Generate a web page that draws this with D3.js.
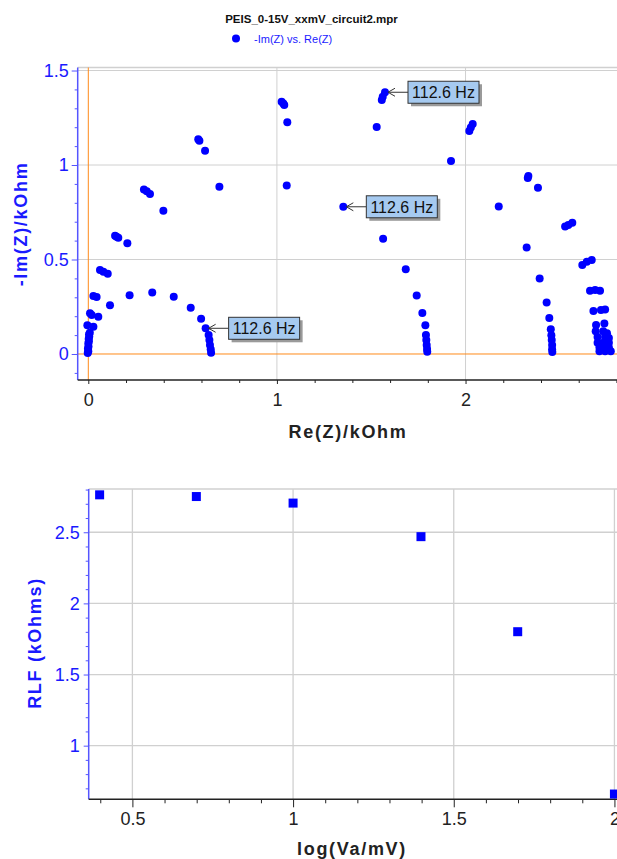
<!DOCTYPE html>
<html><head><meta charset="utf-8">
<script src="https://cdn.jsdelivr.net/npm/d3@7"></script>
<style>
html,body{margin:0;padding:0;background:#fff;overflow:hidden}
svg{display:block;font-family:"Liberation Sans",Arial,sans-serif}
</style></head><body>
<svg id="c" width="617" height="859"></svg>
<script>
// ---------- data ----------
const chartTitle = "PEIS_0-15V_xxmV_circuit2.mpr";
const legendLabel = "-Im(Z) vs. Re(Z)";
const nyqXLabel = "Re(Z)/kOhm";
const nyqYLabel = "-Im(Z)/kOhm";
const rlfXLabel = "log(Va/mV)";
const rlfYLabel = "RLF (kOhms)";

// Nyquist points (kOhm)
const reZ = [-0.003,0.000,-0.002,0.001,0.000,0.003,0.002,0.005,0.004,0.008,-0.005,0.027,0.009,0.018,0.053,0.027,0.044,0.115,
  0.062,0.080,0.103,0.142,0.150,0.159,0.207,0.295,0.310,0.327,0.398,0.583,0.589,0.619,0.695,1.025,1.034,1.039,1.055,1.052,
  0.219,0.339,0.453,0.543,0.598,0.622,0.638,0.642,0.645,0.649,0.651,
  1.352,1.563,1.683,1.741,1.771,1.787,1.790,1.792,1.794,1.796,1.797,
  1.573,1.561,1.556,1.529,1.923,2.038,2.028,2.020,2.176,2.333,2.330,2.384,2.324,2.393,2.430,2.444,2.452,2.455,2.457,2.459,2.459,2.460,
  2.528,2.545,2.566,2.619,2.643,2.669,2.660,2.687,2.713,2.678,2.718,2.740,2.692,2.736,2.690,2.730,2.750,2.700,2.740,2.760,2.700,2.730,2.760,2.710,2.740,2.760,2.710,2.740,2.770];
const imZ = [0.005,0.015,0.028,0.040,0.055,0.068,0.080,0.092,0.105,0.112,0.152,0.144,0.215,0.206,0.197,0.307,0.302,0.258,
  0.444,0.435,0.425,0.626,0.621,0.615,0.586,0.871,0.861,0.847,0.758,1.136,1.129,1.076,0.885,1.335,1.326,1.317,1.226,0.891,
  0.311,0.326,0.303,0.245,0.187,0.136,0.100,0.074,0.048,0.025,0.007,
  0.779,0.610,0.448,0.309,0.217,0.152,0.100,0.074,0.048,0.026,0.012,
  1.385,1.361,1.344,1.201,1.021,1.217,1.199,1.180,0.781,0.942,0.931,0.880,0.563,0.399,0.272,0.190,0.131,0.099,0.074,0.048,0.025,0.010,
  0.674,0.683,0.695,0.471,0.488,0.497,0.335,0.339,0.335,0.228,0.233,0.236,0.153,0.162,0.120,0.120,0.110,0.090,0.090,0.085,0.060,0.060,0.060,0.035,0.035,0.035,0.015,0.015,0.015];

// frequency annotations
const annRe = [0.622, 1.352, 1.573];
const annIm = [0.136, 0.779, 1.385];
const annText = ["112.6 Hz", "112.6 Hz", "112.6 Hz"];

const nyqXTicks = [0, 1, 2];
const nyqYTicks = [0, 0.5, 1, 1.5];

// RLF vs log(Va)
const logVa = [0.398, 0.699, 1.0, 1.398, 1.699, 2.0];
const rlf = [2.763, 2.751, 2.705, 2.469, 1.801, 0.660];
const rlfXTicks = [0.5, 1, 1.5, 2];
const rlfYTicks = [1, 1.5, 2, 2.5];

// ---------- drawing ----------
const FONT = '"Liberation Sans", Arial, sans-serif';
const BLUE = "#0000ff", AXBLUE = "#5555ff", TXTBLUE = "#1a1aff", GRID = "#d0d0d0", ORANGE = "#ff8a1a", DARK = "#222";
const svg = d3.select("#c");

// title + legend
svg.append("text").attr("x", 311.5).attr("y", 23).attr("text-anchor", "middle")
  .attr("font-size", 11.5).attr("font-weight", "bold").attr("fill", "#111").text(chartTitle);
svg.append("circle").attr("cx", 236).attr("cy", 38.5).attr("r", 4).attr("fill", BLUE);
svg.append("text").attr("x", 254).attr("y", 42.5).attr("font-size", 11).attr("fill", TXTBLUE).text(legendLabel);

function styleAxis(g, lineColor, textColor) {
  g.attr("font-family", FONT).attr("font-size", 18);
  g.select(".domain").remove();
  g.selectAll(".tick line").attr("stroke", lineColor);
  g.selectAll(".tick text").attr("fill", textColor);
}

// ===== top: Nyquist =====
const T = {l: 77.7, r: 617, t: 67.5, b: 380};
const x1 = d3.scaleLinear().domain([-0.0562, 2.803]).range([T.l, T.r]);
const y1 = d3.scaleLinear().domain([-0.1376, 1.516]).range([T.b, T.t]);

svg.append("defs").append("clipPath").attr("id", "clip1").append("rect")
  .attr("x", T.l).attr("y", T.t - 6).attr("width", T.r - T.l + 10).attr("height", T.b - T.t + 6);

const g1 = svg.append("g");
// grid
g1.selectAll(".gx").data(nyqXTicks.filter(d => d !== 0)).join("line")
  .attr("x1", d => x1(d)).attr("x2", d => x1(d)).attr("y1", T.t).attr("y2", T.b).attr("stroke", GRID);
g1.selectAll(".gy").data(nyqYTicks.filter(d => d !== 0)).join("line")
  .attr("x1", T.l).attr("x2", T.r).attr("y1", d => y1(d)).attr("y2", d => y1(d)).attr("stroke", GRID);
g1.append("line").attr("x1", T.l).attr("x2", T.r).attr("y1", T.t).attr("y2", T.t).attr("stroke", GRID).attr("stroke-width", 1.5);
// orange zero lines
g1.append("line").attr("x1", x1(0)).attr("x2", x1(0)).attr("y1", T.t).attr("y2", T.b).attr("stroke", ORANGE);
g1.append("line").attr("x1", T.l).attr("x2", T.r).attr("y1", y1(0)).attr("y2", y1(0)).attr("stroke", ORANGE);

// axes
const yMinor1 = d3.range(-0.1, 1.55, 0.1).map(d => +d.toFixed(2)).filter(d => !nyqYTicks.includes(d));
const xMinor1 = d3.range(0, 2.81, 0.2).map(d => +d.toFixed(2)).filter(d => !nyqXTicks.includes(d));
svg.append("g").attr("transform", `translate(${T.l},0)`)
  .call(d3.axisLeft(y1).tickValues(yMinor1).tickSize(3).tickFormat(""))
  .call(g => styleAxis(g, AXBLUE, TXTBLUE));
svg.append("g").attr("transform", `translate(${T.l},0)`)
  .call(d3.axisLeft(y1).tickValues(nyqYTicks).tickSize(6).tickPadding(3).tickFormat(d3.format("")))
  .call(g => styleAxis(g, AXBLUE, TXTBLUE));
svg.append("g").attr("transform", `translate(0,${T.b})`)
  .call(d3.axisBottom(x1).tickValues(xMinor1).tickSize(3).tickFormat(""))
  .call(g => styleAxis(g, DARK, DARK));
svg.append("g").attr("transform", `translate(0,${T.b})`)
  .call(d3.axisBottom(x1).tickValues(nyqXTicks).tickSize(4).tickPadding(9.5).tickFormat(d3.format("")))
  .call(g => styleAxis(g, DARK, DARK));
svg.append("line").attr("x1", T.l).attr("x2", T.l).attr("y1", T.t).attr("y2", T.b).attr("stroke", AXBLUE).attr("stroke-width", 1.5);
svg.append("line").attr("x1", T.l).attr("x2", T.r).attr("y1", T.b).attr("y2", T.b).attr("stroke", DARK).attr("stroke-width", 1.5);

// points
svg.append("g").attr("clip-path", "url(#clip1)").selectAll("circle").data(reZ.map((r, i) => [r, imZ[i]])).join("circle")
  .attr("cx", d => x1(d[0])).attr("cy", d => y1(d[1])).attr("r", 4).attr("fill", BLUE);

// annotations
const ann = svg.append("g");
annRe.forEach((r, i) => {
  const px = x1(r), py = y1(annIm[i]);
  const bx = px + 23, by = py - 11, bw = 71, bh = 22;
  ann.append("path").attr("d", `M${px + 3},${py} L${bx},${py}`).attr("stroke", "#333").attr("fill", "none");
  ann.append("path").attr("d", `M${px + 10},${py - 4} L${px + 3},${py} L${px + 10},${py + 4}`).attr("stroke", "#333").attr("fill", "none");
  ann.append("rect").attr("x", bx + 3).attr("y", by + 3).attr("width", bw).attr("height", bh).attr("fill", "#9a9a9a");
  ann.append("rect").attr("x", bx).attr("y", by).attr("width", bw).attr("height", bh).attr("fill", "#a6caf0").attr("stroke", "#333");
  ann.append("text").attr("x", bx + bw / 2).attr("y", by + 17).attr("text-anchor", "middle")
    .attr("font-size", 16).attr("fill", "#111").text(annText[i]);
});

// axis titles
svg.append("text").attr("x", 348).attr("y", 438).attr("text-anchor", "middle").attr("font-size", 18)
  .attr("font-weight", "bold").attr("letter-spacing", 1.7).attr("fill", DARK).text(nyqXLabel);
svg.append("text").attr("transform", "translate(27,224) rotate(-90)").attr("text-anchor", "middle").attr("font-size", 18)
  .attr("font-weight", "bold").attr("letter-spacing", 1.7).attr("fill", TXTBLUE).text(nyqYLabel);

// ===== bottom: RLF =====
const B = {l: 88.7, r: 617, t: 489, b: 799.3};
const x2 = d3.scaleLinear().domain([0.364, 2.008]).range([B.l, B.r]);
const y2 = d3.scaleLinear().domain([0.623, 2.804]).range([B.b, B.t]);
const g2 = svg.append("g");
g2.selectAll(".gx").data(rlfXTicks).join("line")
  .attr("x1", d => x2(d)).attr("x2", d => x2(d)).attr("y1", B.t).attr("y2", B.b).attr("stroke", GRID).attr("stroke-width", 1.3);
g2.selectAll(".gy").data(rlfYTicks).join("line")
  .attr("x1", B.l).attr("x2", B.r).attr("y1", d => y2(d)).attr("y2", d => y2(d)).attr("stroke", GRID).attr("stroke-width", 1.3);
g2.append("line").attr("x1", B.l).attr("x2", B.r).attr("y1", B.t).attr("y2", B.t).attr("stroke", GRID).attr("stroke-width", 1.5);

const yMinor2 = d3.range(0.7, 2.81, 0.1).map(d => +d.toFixed(2)).filter(d => !rlfYTicks.includes(d));
const xMinor2 = d3.range(0.4, 2.01, 0.1).map(d => +d.toFixed(2)).filter(d => !rlfXTicks.includes(d));
svg.append("g").attr("transform", `translate(${B.l},0)`)
  .call(d3.axisLeft(y2).tickValues(yMinor2).tickSize(3).tickFormat(""))
  .call(g => styleAxis(g, AXBLUE, TXTBLUE));
svg.append("g").attr("transform", `translate(${B.l},0)`)
  .call(d3.axisLeft(y2).tickValues(rlfYTicks).tickSize(5).tickPadding(4).tickFormat(d3.format("")))
  .call(g => styleAxis(g, AXBLUE, TXTBLUE));
svg.append("g").attr("transform", `translate(0,${B.b})`)
  .call(d3.axisBottom(x2).tickValues(xMinor2).tickSize(4).tickFormat(""))
  .call(g => styleAxis(g, DARK, DARK));
svg.append("g").attr("transform", `translate(0,${B.b})`)
  .call(d3.axisBottom(x2).tickValues(rlfXTicks).tickSize(8).tickPadding(4.5).tickFormat(d3.format("")))
  .call(g => styleAxis(g, DARK, DARK));
svg.append("line").attr("x1", B.l).attr("x2", B.l).attr("y1", B.t).attr("y2", B.b).attr("stroke", AXBLUE).attr("stroke-width", 1.5);
svg.append("line").attr("x1", B.l).attr("x2", B.r).attr("y1", B.b).attr("y2", B.b).attr("stroke", DARK).attr("stroke-width", 1.5);

svg.append("g").selectAll("rect").data(logVa.map((v, i) => [v, rlf[i]])).join("rect")
  .attr("x", d => x2(d[0]) - 4.5).attr("y", d => y2(d[1]) - 4.5).attr("width", 9).attr("height", 9).attr("fill", BLUE);

svg.append("text").attr("x", 352).attr("y", 855).attr("text-anchor", "middle").attr("font-size", 18)
  .attr("font-weight", "bold").attr("letter-spacing", 1.7).attr("fill", DARK).text(rlfXLabel);
svg.append("text").attr("transform", "translate(41,643) rotate(-90)").attr("text-anchor", "middle").attr("font-size", 18)
  .attr("font-weight", "bold").attr("letter-spacing", 1.7).attr("fill", TXTBLUE).text(rlfYLabel);
</script>
</body></html>
